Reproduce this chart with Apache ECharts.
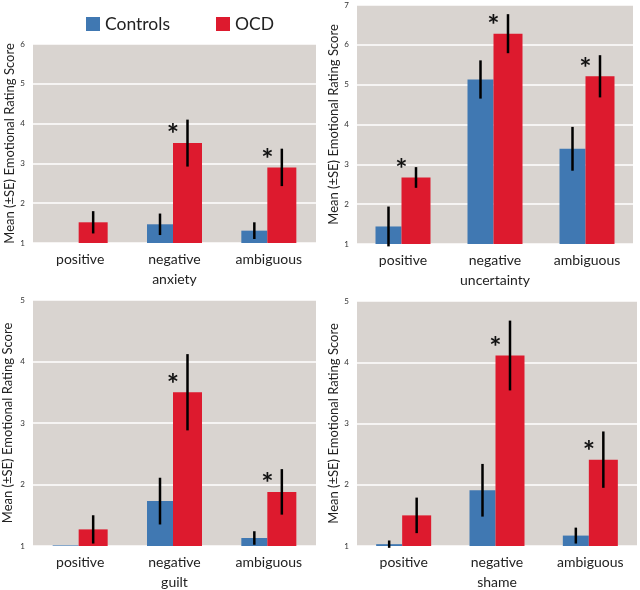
<!DOCTYPE html>
<html>
<head>
<meta charset="utf-8">
<script src="https://cdn.jsdelivr.net/npm/echarts@6/dist/echarts.min.js"></script>
<style>
  html, body { margin: 0; padding: 0; background: #ffffff; }
  #chart { width: 640px; height: 590px; }
</style>
</head>
<body>
<div id="chart"></div>
<script>
// ---- data ----
const categories = ['positive', 'negative', 'ambiguous'];
const panelNames = ['anxiety', 'uncertainty', 'guilt', 'shame'];
const seriesNames = ['Controls', 'OCD'];
const yMax = [6, 7, 5, 5];

const anxietyControls = [1.0, 1.47, 1.31];
const anxietyControlsSE = [0, 0.27, 0.21];
const anxietyOCD = [1.52, 3.51, 2.90];
const anxietyOCDSE = [0.28, 0.59, 0.47];
const anxietySig = [false, true, true];

const uncertaintyControls = [1.44, 5.13, 3.39];
const uncertaintyControlsSE = [0.50, 0.48, 0.55];
const uncertaintyOCD = [2.67, 6.28, 5.21];
const uncertaintyOCDSE = [0.26, 0.49, 0.53];
const uncertaintySig = [true, true, true];

const guiltControls = [1.01, 1.73, 1.13];
const guiltControlsSE = [0, 0.38, 0.11];
const guiltOCD = [1.27, 3.50, 1.88];
const guiltOCDSE = [0.23, 0.62, 0.37];
const guiltSig = [false, true, true];

const shameControls = [1.03, 1.91, 1.17];
const shameControlsSE = [0.06, 0.43, 0.13];
const shameOCD = [1.50, 4.11, 2.41];
const shameOCDSE = [0.29, 0.57, 0.46];
const shameSig = [false, true, true];

const panels = [
  { ctrl: anxietyControls, ctrlSE: anxietyControlsSE, ocd: anxietyOCD, ocdSE: anxietyOCDSE, sig: anxietySig },
  { ctrl: uncertaintyControls, ctrlSE: uncertaintyControlsSE, ocd: uncertaintyOCD, ocdSE: uncertaintyOCDSE, sig: uncertaintySig },
  { ctrl: guiltControls, ctrlSE: guiltControlsSE, ocd: guiltOCD, ocdSE: guiltOCDSE, sig: guiltSig },
  { ctrl: shameControls, ctrlSE: shameControlsSE, ocd: shameOCD, ocdSE: shameOCDSE, sig: shameSig }
];

// ---- style ----
const FONT = 'Lato';
const BLUE = '#4078b2';
const RED = '#dd1a2e';
const BG = '#d9d4d0';
const CTRL_W = 26, OCD_W = 29;
const CTRL_OFF = -(CTRL_W + OCD_W) / 2 + CTRL_W / 2;
const OCD_OFF = -(CTRL_W + OCD_W) / 2 + CTRL_W + OCD_W / 2;
const OCD_LEFT = -(CTRL_W + OCD_W) / 2 + CTRL_W;
const Y_NAME_GAP = [17, 17, 19, 17];

const grids = [
  { left: 33, top: 44, width: 283, height: 199 },
  { left: 357, top: 5, width: 276, height: 239 },
  { left: 30, top: 300, width: 286, height: 246 },
  { left: 357, top: 301, width: 280, height: 246 }
];

const chart = echarts.init(document.getElementById('chart'), null, { renderer: 'canvas' });

const option = {
  animation: false,
  backgroundColor: '#ffffff',
  legend: {
    data: seriesNames,
    left: 81, top: 10,
    itemWidth: 14, itemHeight: 14, itemGap: 46,
    icon: 'rect',
    textStyle: { fontFamily: FONT, fontSize: 17.5, color: '#222' }
  },
  grid: grids.map(g => Object.assign({ show: true, backgroundColor: BG, borderWidth: 0, containLabel: false }, g)),
  xAxis: grids.map((g, i) => ({
    type: 'category', gridIndex: i, data: categories,
    name: panelNames[i], nameLocation: 'middle', nameGap: 29,
    nameMoveOverlap: false,
    nameTextStyle: { fontFamily: FONT, fontSize: 14, color: '#222' },
    axisLine: { show: false }, axisTick: { show: false },
    axisLabel: { fontFamily: FONT, fontSize: 14, color: '#222', margin: 9 }
  })),
  yAxis: grids.map((g, i) => ({
    type: 'value', gridIndex: i, min: 1, max: yMax[i], interval: 1,
    name: 'Mean (±SE) Emotional Rating Score', nameLocation: 'middle', nameGap: Y_NAME_GAP[i],
    nameMoveOverlap: false,
    nameTextStyle: { fontFamily: FONT, fontSize: 13, color: '#222' },
    axisLine: { show: false }, axisTick: { show: false },
    axisLabel: { fontFamily: FONT, fontSize: 8, color: '#333', margin: 8 },
    splitLine: { show: true, lineStyle: { color: '#ffffff', width: 1.5 } }
  })),
  series: []
};

function errRender(offset) {
  return function (params, api) {
    const lo = api.coord([api.value(0), api.value(1)]);
    const hi = api.coord([api.value(0), api.value(2)]);
    const x = lo[0] + offset;
    return {
      type: 'line',
      shape: { x1: x, y1: lo[1], x2: x, y2: hi[1] },
      style: { stroke: '#000', lineWidth: 2.5 }
    };
  };
}

function starRender(params, api) {
  const p = api.coord([api.value(0), api.value(1)]);
  return {
    type: 'text',
    style: {
      x: p[0] + OCD_LEFT, y: p[1] - 8,
      text: '*', fill: '#111',
      font: 'bold 29px ' + FONT,
      align: 'center', verticalAlign: 'middle'
    }
  };
}

panels.forEach((p, i) => {
  option.series.push({
    name: 'Controls', type: 'bar', xAxisIndex: i, yAxisIndex: i,
    data: p.ctrl, barWidth: CTRL_W, barGap: '0%',
    itemStyle: { color: BLUE }
  });
  option.series.push({
    name: 'OCD', type: 'bar', xAxisIndex: i, yAxisIndex: i,
    data: p.ocd, barWidth: OCD_W, barGap: '0%',
    itemStyle: { color: RED }
  });
  const ctrlErr = [], ocdErr = [], stars = [];
  categories.forEach((c, k) => {
    if (p.ctrlSE[k] > 0) ctrlErr.push([k, p.ctrl[k] - p.ctrlSE[k], p.ctrl[k] + p.ctrlSE[k]]);
    if (p.ocdSE[k] > 0) ocdErr.push([k, p.ocd[k] - p.ocdSE[k], p.ocd[k] + p.ocdSE[k]]);
    if (p.sig[k]) stars.push([k, p.ocd[k]]);
  });
  option.series.push({
    type: 'custom', xAxisIndex: i, yAxisIndex: i, z: 5, clip: false,
    renderItem: errRender(CTRL_OFF), data: ctrlErr, encode: { x: 0, y: [1, 2] }
  });
  option.series.push({
    type: 'custom', xAxisIndex: i, yAxisIndex: i, z: 5, clip: false,
    renderItem: errRender(OCD_OFF), data: ocdErr, encode: { x: 0, y: [1, 2] }
  });
  option.series.push({
    type: 'custom', xAxisIndex: i, yAxisIndex: i, z: 6, clip: false,
    renderItem: starRender, data: stars, encode: { x: 0, y: 1 }
  });
});

chart.setOption(option);
</script>
</body>
</html>
